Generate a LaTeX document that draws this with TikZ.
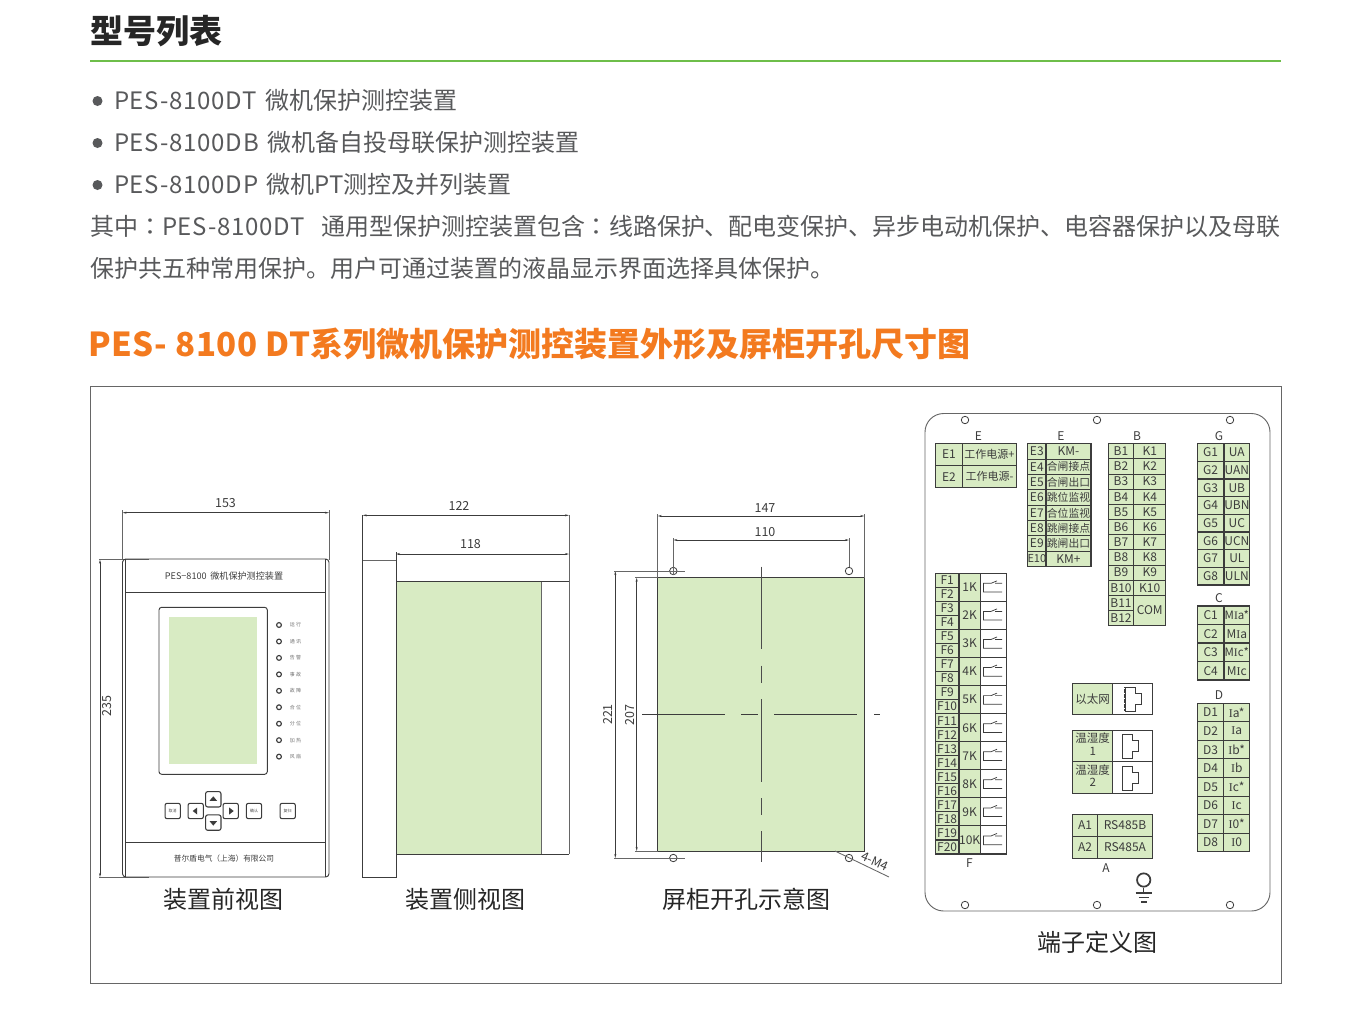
\documentclass[tikz,border=0pt]{standalone}
\usepackage{fontspec}
\setmainfont{Noto Sans CJK SC}
\newfontfamily\tcfont{Noto Sans CJK TC}
\newfontfamily\serifI{Liberation Serif}
\newfontfamily\latsp[LetterSpace=3.3]{Noto Sans CJK SC}
\newcommand\II{{\serifI I}}
\usetikzlibrary{arrows.meta}
\definecolor{lcd}{HTML}{D8EBC3}
\definecolor{ink}{HTML}{3C3C3C}
\definecolor{body}{HTML}{58595B}
\definecolor{hgreen}{HTML}{6EBE4A}
\definecolor{horange}{HTML}{F37A1F}
\definecolor{frame}{HTML}{666666}
\newcommand\px[1]{\fontsize{\fpeval{#1*0.75}pt}{\fpeval{#1*0.85}pt}\selectfont}
\tikzset{
  txt/.style={inner sep=0pt,outer sep=0pt,text=body,anchor=west,font=\px{24}},
  captext/.style={inner sep=0pt,text=black!85,font=\px{24}},
  dimtext/.style={inner sep=0pt,text=ink,font=\px{12.5}},
  plabel/.style={inner sep=0pt,text=ink,font=\px{12}},
  cell/.style={draw=ink,line width=.8pt,fill=lcd,inner sep=0pt,outer sep=0pt,text=ink,font=\px{12}},
  wcell/.style={cell,fill=white},
  dimline/.style={draw=ink,line width=.55pt,{Stealth[length=3pt,width=1.5pt]}-{Stealth[length=3pt,width=1.5pt]}},
  extline/.style={draw=frame,line width=.65pt},
  part/.style={draw=ink,line width=.7pt},
  keybtn/.style={draw=ink,line width=.8pt,fill=white,rounded corners=1.5pt,minimum width=11.5pt,minimum height=11.5pt,inner sep=0pt,font=\px{4},text=black!70},
  led/.style={circle,draw=ink,line width=.85pt,fill=white,minimum size=3.6pt,inner sep=0pt},
  ledtext/.style={inner sep=0pt,anchor=center,font=\px{5},text=black!55},
  hole/.style={circle,draw=ink,line width=.6pt,minimum size=5.6pt,inner sep=0pt},
  centreline/.style={draw=black!70,line width=.7pt},
  boxline/.style={draw=frame,line width=.7pt}
}
\newcommand\cellbox[7][cell]{%
  \pgfmathsetmacro\cw{(#5-#3)*.75}\pgfmathsetmacro\ch{(#6-#4)*.75}%
  \node[#1,minimum width=\cw pt,minimum height=\ch pt] (#2) at ({(#3+#5)/2},{(#4+#6)/2}) {\makebox[0pt][c]{#7}};}
\newcommand\termcol[7]{% prefix x1 xm x2 ytop rowh list
  \foreach \a/\b [count=\n from 0] in {#7}{%
    \pgfmathsetmacro\yy{#5+\n*#6}\pgfmathsetmacro\yz{#5+(\n+1)*#6}%
    \cellbox{#1l\n}{#2}{\yy}{#3}{\yz}{\a}%
    \cellbox{#1r\n}{#3}{\yy}{#4}{\yz}{\b}%
  }}
\newcommand\rjicon[2]{% x y of top-left
  \draw[line width=.75pt,draw=ink] (#1,#2) -- ++(10,0) -- ++(0,6) -- ++(6,0) -- ++(0,11) -- ++(-6,0) -- ++(0,7) -- ++(-10,0) -- cycle;
  \draw[line width=1.2pt,draw=ink,dash pattern=on .9pt off .35pt] (#1,#2) -- ++(0,24);}
\begin{document}
\begin{tikzpicture}[x=.75pt,y=-.75pt]
\useasboundingbox (0,0) rectangle (1368,1011);
% header
\node[txt,anchor=west,text=black!85,font=\px{33}\bfseries] (title) at (90,31) {型号列表};
\coordinate (ruleL) at (90,61); \coordinate (ruleR) at (1281,61);
\draw[hgreen,line width=1.3pt] (ruleL) -- (ruleR);
\foreach \yb in {101,143,185}{\fill[body] (97.5,\yb) circle (5);}
\node[txt] (l1) at (114,100) {{\latsp PES-8100DT}\hspace{.35em}微机保护测控装置};
\node[txt] (l2) at (114,142) {{\latsp PES-8100DB}\hspace{.35em}微机备自投母联保护测控装置};
\node[txt] (l3) at (114,184) {{\latsp PES-8100DP}\hspace{.35em}微机PT测控及并列装置};
\node[txt] (l4) at (90,226) {\hbox to 893.25pt{其中{\tcfont ：}{\latsp PES-8100DT}\hfil 通用型保护测控装置包含{\tcfont ：}线路保护、配电变保护、异步电动机保护、电容器保护以及母联}};
\node[txt] (l5) at (90,268) {保护共五种常用保护。用户可通过装置的液晶显示界面选择具体保护。};
\node[txt,text=horange,font=\px{33}\bfseries] (head) at (88,344) {{\addfontfeature{LetterSpace=1.6}PES- 8100 DT}系列微机保护测控装置外形及屏柜开孔尺寸图};
\draw[boxline] (90,386) rectangle (1281,983);

% ---------- front view
\coordinate (a1) at (122.5,512.7); \coordinate (a2) at (329,512.7);
\draw[dimline] (a1) -- (a2);
\draw[extline] (122.5,510) -- (122.5,560) (329,510) -- (329,560);
\node[dimtext] (d153) at (225.5,503) {153};
\coordinate (b1) at (100,559.7); \coordinate (b2) at (100,877);
\draw[dimline] (b1) -- (b2);
\draw[extline] (99,559.5) -- (149,559.5) (99,877) -- (149,877);
\node[dimtext,rotate=90] (d235) at (107,706) {235};
\draw[part,rounded corners=2.5pt] (122.5,559) rectangle (329,877);
\draw[part] (125.5,559) -- (125.5,877) (325.5,559) -- (325.5,877);
\draw[part] (125.5,592.7) -- (325.5,592.7) (125.5,842.7) -- (325.5,842.7);
\node[inner sep=0pt,text=ink,font=\px{9.1}] (ftitle) at (224,576) {PES−8100\hspace{.4em}微机保护测控装置};
\draw[part,rounded corners=2pt] (159,607.3) rectangle (267.3,774.3);
\fill[lcd] (169,617) rectangle (257,763.7);
\foreach \t [count=\n from 0] in {运 行,通 讯,告 警,事 故,故 障,合 位,分 位,加 热,风 扇}{
  \pgfmathsetmacro\ly{625+\n*16.45}
  \node[led] (led\n) at (279,\ly) {};
  \node[ledtext] (ledt\n) at (295.5,\ly) {\t};
}
\node[keybtn] (k1) at (172.7,811) {取消};
\node[keybtn] (k2) at (195.7,811) {};
\node[keybtn] (k3) at (213.3,799.3) {};
\node[keybtn] (k4) at (213.3,822.6) {};
\node[keybtn] (k5) at (230.7,811) {};
\node[keybtn] (k6) at (254,811) {确认};
\node[keybtn] (k7) at (287.7,811) {复归};
\fill[ink] (192.7,811) -- ++(4.5,-3.5) -- ++(0,7) -- cycle;
\fill[ink] (233.7,811) -- ++(-4.5,-3.5) -- ++(0,7) -- cycle;
\fill[ink] (213.3,796.3) -- ++(-3.8,4.5) -- ++(7.6,0) -- cycle;
\fill[ink] (213.3,825.6) -- ++(-3.8,-4.5) -- ++(7.6,0) -- cycle;
\node[inner sep=0pt,text=ink,font=\px{7.7}] (maker) at (224,858.5) {普尔盾电气（上海）有限公司};
\node[captext] (cap1) at (223,899) {装置前视图};

% ---------- side view
\coordinate (c1) at (362.7,515.3); \coordinate (c2) at (569,515.3);
\draw[dimline] (c1) -- (c2);
\node[dimtext] (d122) at (459,505.5) {122};
\coordinate (e1) at (396,554); \coordinate (e2) at (569,554);
\draw[dimline] (e1) -- (e2);
\node[dimtext] (d118) at (470.5,544) {118};
\fill[lcd] (396,581.7) rectangle (541,854);
\draw[part] (362.7,515) -- (362.7,877) -- (396,877) -- (396,552);
\draw[extline] (362.7,560) -- (396,560);
\draw[part] (396,581.7) -- (569,581.7) (396,854) -- (569,854);
\draw[extline] (569,515) -- (569,854) (541,581.7) -- (541,854);
\node[captext] (cap2) at (465,899) {装置侧视图};

% ---------- cutout
\fill[lcd] (657.7,577.7) rectangle (864.3,851);
\draw[part] (657.7,577.7) rectangle (864.3,851);
\coordinate (f1) at (657.7,516); \coordinate (f2) at (864.3,516);
\draw[dimline] (f1) -- (f2);
\draw[extline] (657.7,514) -- (657.7,578) (864.3,514) -- (864.3,578);
\node[dimtext] (d147) at (765,508) {147};
\coordinate (g1) at (673.3,540); \coordinate (g2) at (849,540);
\draw[dimline] (g1) -- (g2);
\draw[extline] (673.3,538) -- (673.3,567) (849,538) -- (849,567);
\node[dimtext] (d110) at (765,532) {110};
\node[hole] (h1) at (673.3,571) {};
\node[hole] (h2) at (849,571) {};
\node[hole] (h3) at (673.3,858) {};
\node[hole] (h4) at (849,858) {};
\draw[extline] (673.3,567) -- (673.3,575);
\coordinate (i1) at (615.3,571); \coordinate (i2) at (615.3,858);
\draw[dimline] (i1) -- (i2);
\draw[extline] (614,571) -- (685,571) (614,858) -- (685,858);
\coordinate (j1) at (636.7,577.7); \coordinate (j2) at (636.7,851);
\draw[dimline] (j1) -- (j2);
\draw[extline] (635,577.7) -- (658,577.7) (635,851) -- (658,851);
\node[dimtext,rotate=90] (d221) at (608,714.5) {221};
\node[dimtext,rotate=90] (d207) at (630,715) {207};
\draw[centreline] (761,566.7) -- (761,649.3) (761,665.7) -- (761,682.7) (761,699) -- (761,781.7) (761,798.3) -- (761,815) (761,831) -- (761,861.7);
\draw[centreline,draw=ink] (642,714.3) -- (725,714.3) (741,714.3) -- (758.3,714.3) (774.3,714.3) -- (857.3,714.3) (874,714.3) -- (880,714.3);
\draw[extline] (835,851) -- (889,877);
\node[inner sep=0pt,text=ink,font=\px{12.5},rotate=-24] (m4) at (875,861.5) {4-M4};
\node[captext] (cap3) at (746,899) {屏柜开孔示意图};

% ---------- terminal panel
\draw[boxline,rounded corners=14pt] (925,413.5) rectangle (1270,911);
\foreach \hx/\hy [count=\n] in {965/420,1097/420,1230/420,965/905,1097/905,1230/905}{
  \node[hole] (ph\n) at (\hx,\hy) {};
}
\node[plabel] (lE1) at (978.5,436) {E};
\node[plabel] (lE2) at (1061,436) {E};
\node[plabel] (lB) at (1137,436) {B};
\node[plabel] (lG) at (1219,436) {G};
\node[plabel] (lC) at (1219,598) {C};
\node[plabel] (lD) at (1219,695) {D};
\node[plabel] (lF) at (969.5,863) {F};
\node[plabel] (lA) at (1106,868) {A};
% E1-E2
\termcol{ea}{935.5}{962.3}{1016.5}{443.5}{22.1}{E1/{\px{11}工作电源+},E2/{\px{11}工作电源-}}
% E3-E10
\termcol{eb}{1027.7}{1046}{1091}{443.7}{15.37}{E3/KM-,E4/{\px{10.8}合闸接点},E5/{\px{10.8}合闸出口},E6/{\px{10.8}跳位监视},E7/{\px{10.8}合位监视},E8/{\px{10.8}跳闸接点},E9/{\px{10.8}跳闸出口},{\px{11}E10}/KM+}
% B
\termcol{b}{1108.3}{1133.7}{1165.7}{443.7}{15.17}{B1/K1,B2/K2,B3/K3,B4/K4,B5/K5,B6/K6,B7/K7,B8/K8,B9/K9,B10/K10}
\cellbox{bl10}{1108.3}{595.4}{1133.7}{610.6}{B11}
\cellbox{bl11}{1108.3}{610.6}{1133.7}{625.7}{B12}
\cellbox{br10}{1133.7}{595.4}{1165.7}{625.7}{COM}
% G
\termcol{g}{1197.3}{1224}{1249.7}{443.7}{17.66}{G1/UA,G2/UAN,G3/UB,G4/UBN,G5/UC,G6/UCN,G7/UL,G8/ULN}
% C
\termcol{cc}{1197.3}{1224}{1249.7}{606}{18.5}{C1/{\px{11.5}M\II a*},C2/M\II a,C3/{\px{11.5}M\II c*},C4/M\II c}
% D
\termcol{dd}{1197.3}{1223.7}{1249.7}{703.3}{18.55}{D1/\II a*,D2/\II a,D3/\II b*,D4/\II b,D5/\II c*,D6/\II c,D7/\II 0*,D8/\II 0}
% F
\foreach \n in {0,...,9}{
  \pgfmathsetmacro\ya{573.3+\n*28.07}\pgfmathsetmacro\yb{\ya+14.03}\pgfmathsetmacro\yc{\ya+28.07}
  \pgfmathtruncatemacro\fa{2*\n+1}\pgfmathtruncatemacro\fb{2*\n+2}\pgfmathtruncatemacro\kk{\n+1}
  \cellbox{fa\n}{935.3}{\ya}{959}{\yb}{F\fa}
  \cellbox{fb\n}{935.3}{\yb}{959}{\yc}{F\fb}
  \cellbox{fk\n}{959}{\ya}{980.3}{\yc}{\kk K}
  \cellbox[wcell]{fs\n}{980.3}{\ya}{1006.7}{\yc}{}
  \draw[draw=ink,line width=.55pt] (1002,\yb-4) -- ++(-7,0) (991,\yb-4) -- ++(6,-2.5) (991,\yb-4) -- (983.5,\yb-4) -- (983.5,\yb+4.7) -- (1002,\yb+4.7);
}
% ethernet etc
\cellbox{eth}{1072.7}{683.3}{1112.7}{714.3}{\px{11.5}以太网}
\cellbox[wcell]{ethp}{1112.7}{683.3}{1152.7}{714.3}{}
\rjicon{1125}{687}
\cellbox{th1}{1072.7}{730.7}{1112.7}{761.7}{\begin{tabular}{@{}c@{}}\px{11.5}温湿度\\[-1pt]\px{11.5}1\end{tabular}}
\cellbox[wcell]{th1p}{1112.7}{730.7}{1152.7}{761.7}{}
\rjicon{1122.5}{734}
\cellbox{th2}{1072.7}{761.7}{1112.7}{793.3}{\begin{tabular}{@{}c@{}}\px{11.5}温湿度\\[-1pt]\px{11.5}2\end{tabular}}
\cellbox[wcell]{th2p}{1112.7}{761.7}{1152.7}{793.3}{}
\rjicon{1122.5}{766}
\cellbox{a1c}{1072.7}{814.3}{1097.3}{836.3}{A1}
\cellbox{a1d}{1097.3}{814.3}{1152.7}{836.3}{RS485B}
\cellbox{a2c}{1072.7}{836.3}{1097.3}{858.3}{A2}
\cellbox{a2d}{1097.3}{836.3}{1152.7}{858.3}{RS485A}
% ground
\node[circle,draw=ink,line width=1.3pt,minimum size=10pt,inner sep=0pt] (gnd) at (1143.7,880) {};
\coordinate (gs) at (1143.7,893);
\draw[ink,line width=.8pt] (gnd) -- (gs);
\draw[ink,line width=.8pt] (1135.5,893) -- (1152,893) (1138.5,897.5) -- (1149,897.5) (1141,902) -- (1146.5,902);
\node[captext] (cap4) at (1097,942) {端子定义图};
\end{tikzpicture}
\end{document}
